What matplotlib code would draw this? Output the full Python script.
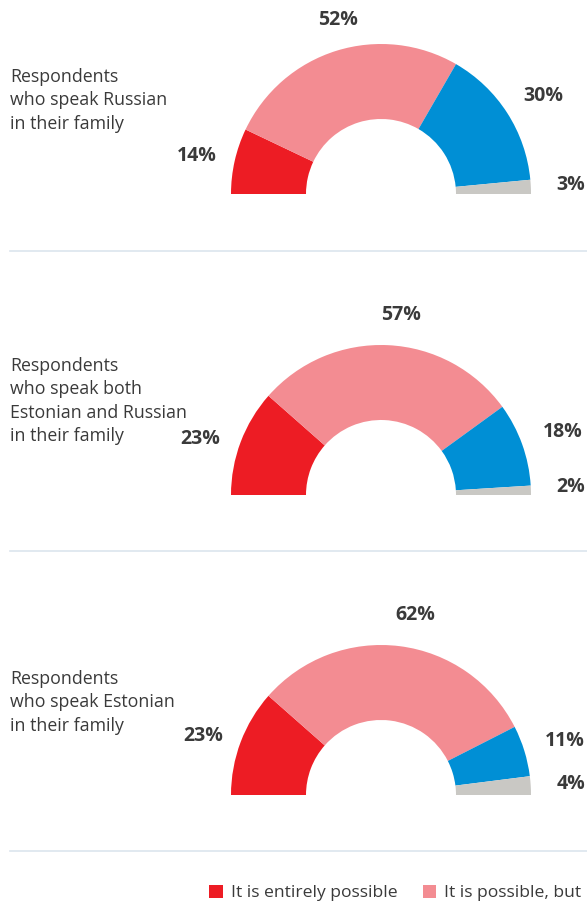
import matplotlib
matplotlib.use("Agg")
import matplotlib.pyplot as plt
from matplotlib.patches import Patch
from matplotlib.lines import Line2D

W, H = 587, 905
DPI = 100

plt.rcParams["font.family"] = ["Open Sans", "DejaVu Sans"]

# answer categories, left to right along the half ring
categories = ["It is entirely possible", "It is possible, but", "Other", "Don't know"]
colors = ["#ed1c24", "#f38c92", "#008fd5", "#c9c8c4"]

groups = [
    ["Respondents", "who speak Russian", "in their family"],
    ["Respondents", "who speak both", "Estonian and Russian", "in their family"],
    ["Respondents", "who speak Estonian", "in their family"],
]
russian = [14, 52, 30, 3]
both = [23, 57, 18, 2]
estonian = [23, 62, 11, 4]
shares = [russian, both, estonian]

# layout in pixels (top-left origin)
RING_CX = 381
RING_R = 150
ring_bottoms = [194, 495, 795]
label_baselines = [82, 371, 684]
LINE_STEP = 23.3
separators = [251, 551, 851]
# percent label centres per chart, one per category
pct_pos = [
    [(197, 156), (338, 20), (543, 96), (571, 185)],
    [(200, 439), (401, 315), (563, 432), (571, 487)],
    [(203, 736), (415, 615), (565, 741), (571, 784)],
]
TEXT = "#3a3a3a"


def fx(x):
    return x / W


def fy(y):
    return 1 - y / H


fig = plt.figure(figsize=(W / DPI, H / DPI), dpi=DPI)

for vals, lines, yb, base, pos in zip(shares, groups, ring_bottoms, label_baselines, pct_pos):
    ax = fig.add_axes([fx(RING_CX - RING_R), fy(yb), 2 * RING_R / W, RING_R / H])
    # the lower half is a hidden wedge of the same total
    wedges, _ = ax.pie(
        vals + [sum(vals)],
        colors=colors + ["none"],
        startangle=180,
        counterclock=False,
        radius=1,
        wedgeprops=dict(width=0.5, linewidth=0),
    )
    ax.set_xlim(-1, 1)
    ax.set_ylim(0, 1)
    ax.set_aspect("auto")
    ax.axis("off")

    for v, (px, py) in zip(vals, pos):
        fig.text(fx(px), fy(py), f"{v}%", ha="center", va="center",
                 fontsize=14, fontweight="bold", color=TEXT)

    for i, line in enumerate(lines):
        fig.text(fx(10), fy(base + i * LINE_STEP), line, ha="left", va="baseline",
                 fontsize=12.8, color=TEXT)

for y in separators:
    fig.add_artist(Line2D([fx(10), 1], [fy(y), fy(y)], color="#dce5ed", linewidth=1.2))

handles = [Patch(facecolor=c, edgecolor="none") for c in colors[:2]]
fig.legend(
    handles, categories[:2],
    loc="center left", bbox_to_anchor=(fx(209), fy(893)),
    ncol=2, frameon=False, fontsize=12.6,
    handlelength=0.78, handleheight=0.78, handletextpad=0.45,
    columnspacing=1.45, labelcolor=TEXT, borderaxespad=0, borderpad=0,
)

fig.savefig("out.png", dpi=DPI)
